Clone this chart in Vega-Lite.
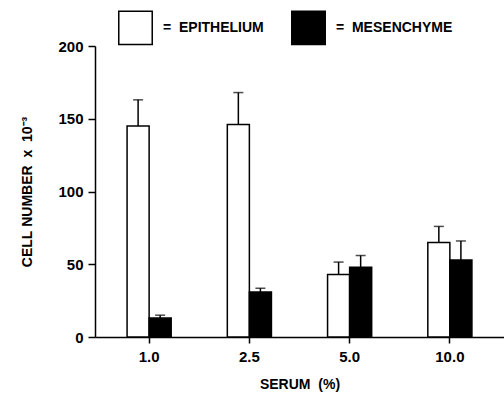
{
  "$schema": "https://vega.github.io/schema/vega-lite/v6.json",
  "width": 409,
  "height": 291,
  "autosize": "none",
  "padding": {"left": 95, "top": 46, "right": 0, "bottom": 58},
  "background": "white",
  "config": {
    "view": {"stroke": null},
    "font": "Liberation Sans",
    "axis": {
      "domainColor": "black",
      "domainWidth": 1.5,
      "tickColor": "black",
      "tickWidth": 1.5,
      "labelColor": "black",
      "titleColor": "black",
      "labelFont": "Liberation Sans",
      "titleFont": "Liberation Sans",
      "labelFontSize": 15,
      "labelFontWeight": "bold",
      "titleFontSize": 14,
      "titleFontWeight": "bold",
      "grid": false
    }
  },
  "data": {
    "values": [
      {"serum": "1.0", "type": "EPITHELIUM", "value": 145, "err": 163},
      {"serum": "1.0", "type": "MESENCHYME", "value": 13, "err": 15},
      {"serum": "2.5", "type": "EPITHELIUM", "value": 146, "err": 168},
      {"serum": "2.5", "type": "MESENCHYME", "value": 31, "err": 33.5},
      {"serum": "5.0", "type": "EPITHELIUM", "value": 43, "err": 51.5},
      {"serum": "5.0", "type": "MESENCHYME", "value": 48, "err": 56},
      {"serum": "10.0", "type": "EPITHELIUM", "value": 65, "err": 76},
      {"serum": "10.0", "type": "MESENCHYME", "value": 53, "err": 66}
    ]
  },
  "encoding": {
    "x": {
      "field": "serum",
      "type": "nominal",
      "sort": ["1.0", "2.5", "5.0", "10.0"],
      "scale": {"paddingInner": 0.56, "paddingOuter": 0.32},
      "axis": {"title": "SERUM\u00a0\u00a0(%)", "labelAngle": 0, "tickSize": 6, "labelPadding": 6, "titlePadding": 13}
    },
    "xOffset": {"field": "type", "type": "nominal", "sort": ["EPITHELIUM", "MESENCHYME"], "scale": {"paddingInner": 0, "paddingOuter": 0}}
  },
  "layer": [
    {
      "mark": {"type": "bar", "stroke": "black", "strokeWidth": 1.5},
      "encoding": {
        "y": {
          "field": "value",
          "type": "quantitative",
          "scale": {"domain": [0, 200]},
          "axis": {"title": "CELL\u00a0NUMBER\u00a0\u00a0x\u00a0\u00a010⁻³", "values": [0, 50, 100, 150, 200], "tickSize": 7, "labelPadding": 5, "titlePadding": 23}
        },
        "fill": {
          "field": "type",
          "type": "nominal",
          "sort": ["EPITHELIUM", "MESENCHYME"],
          "scale": {"domain": ["EPITHELIUM", "MESENCHYME"], "range": ["white", "black"]},
          "legend": {
            "title": null,
            "orient": "none",
            "direction": "horizontal",
            "legendX": 23,
            "legendY": -36,
            "symbolType": "square",
            "symbolSize": 1120,
            "symbolStrokeColor": "black",
            "symbolStrokeWidth": 1.5,
            "symbolOpacity": 1,
            "labelExpr": "'=\u00a0\u00a0' + datum.label",
            "labelFont": "Liberation Sans",
            "labelFontSize": 14,
            "labelFontWeight": "bold",
            "labelColor": "black",
            "labelOffset": 10,
            "columnPadding": 24,
            "labelLimit": 300
          }
        }
      }
    },
    {
      "mark": {"type": "rule", "color": "black", "strokeWidth": 1.5},
      "encoding": {
        "y": {"field": "value", "type": "quantitative"},
        "y2": {"field": "err"}
      }
    },
    {
      "mark": {"type": "tick", "color": "black", "size": 10, "thickness": 1.5},
      "encoding": {
        "y": {"field": "err", "type": "quantitative"}
      }
    }
  ]
}
